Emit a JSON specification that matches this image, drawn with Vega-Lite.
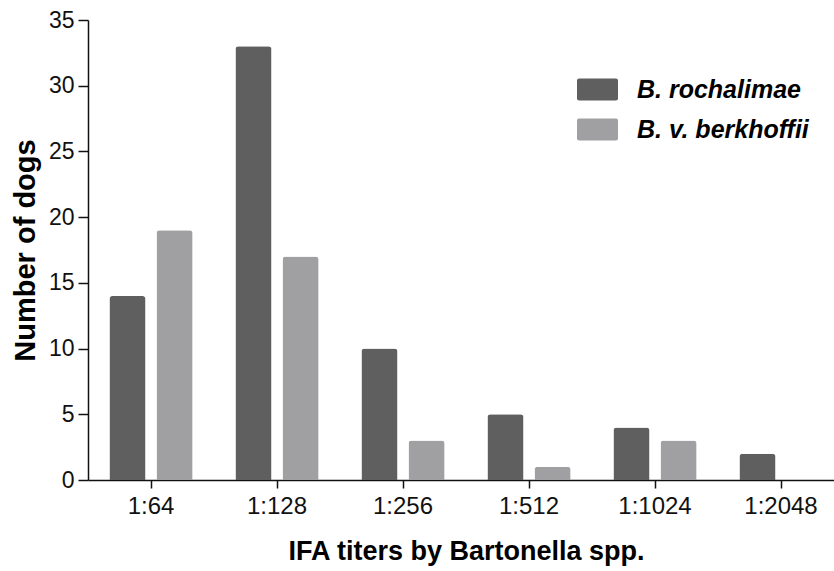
{
  "$schema": "https://vega.github.io/schema/vega-lite/v6.json",
  "width": 756,
  "height": 460,
  "autosize": {"type": "none"},
  "padding": {"left": 88, "top": 20, "right": 0, "bottom": 91},
  "background": "white",
  "data": {
    "values": [
      {"titer": "1:64", "species": "B. rochalimae", "dogs": 14},
      {"titer": "1:64", "species": "B. v. berkhoffii", "dogs": 19},
      {"titer": "1:128", "species": "B. rochalimae", "dogs": 33},
      {"titer": "1:128", "species": "B. v. berkhoffii", "dogs": 17},
      {"titer": "1:256", "species": "B. rochalimae", "dogs": 10},
      {"titer": "1:256", "species": "B. v. berkhoffii", "dogs": 3},
      {"titer": "1:512", "species": "B. rochalimae", "dogs": 5},
      {"titer": "1:512", "species": "B. v. berkhoffii", "dogs": 1},
      {"titer": "1:1024", "species": "B. rochalimae", "dogs": 4},
      {"titer": "1:1024", "species": "B. v. berkhoffii", "dogs": 3},
      {"titer": "1:2048", "species": "B. rochalimae", "dogs": 2},
      {"titer": "1:2048", "species": "B. v. berkhoffii", "dogs": 0}
    ]
  },
  "mark": {"type": "bar", "cornerRadiusTopLeft": 3, "cornerRadiusTopRight": 3},
  "encoding": {
    "x": {
      "field": "titer",
      "type": "nominal",
      "sort": ["1:64", "1:128", "1:256", "1:512", "1:1024", "1:2048"],
      "scale": {"paddingInner": 0.34, "paddingOuter": 0.17},
      "axis": {
        "title": "IFA titers by Bartonella spp.",
        "labelAngle": 0,
        "labelFont": "Liberation Sans",
        "labelFontSize": 24,
        "labelColor": "#111",
        "labelPadding": 6,
        "tickSize": 8,
        "tickColor": "#111",
        "tickWidth": 1.5,
        "domainColor": "#111",
        "domainWidth": 1.5,
        "titleFont": "Liberation Sans",
        "titleFontSize": 27,
        "titleFontWeight": "bold",
        "titleColor": "#000",
        "titlePadding": 20,
        "titleAnchor": "middle"
      }
    },
    "xOffset": {
      "field": "species",
      "type": "nominal",
      "scale": {"paddingInner": 0.234, "paddingOuter": 0}
    },
    "y": {
      "field": "dogs",
      "type": "quantitative",
      "scale": {"domain": [0, 35], "nice": false},
      "axis": {
        "title": "Number of dogs",
        "values": [0, 5, 10, 15, 20, 25, 30, 35],
        "grid": false,
        "labelFont": "Liberation Sans",
        "labelFontSize": 23,
        "labelColor": "#111",
        "labelPadding": 4,
        "tickSize": 10,
        "tickColor": "#111",
        "tickWidth": 1.5,
        "domainColor": "#111",
        "domainWidth": 1.5,
        "titleFont": "Liberation Sans",
        "titleFontSize": 29,
        "titleFontWeight": "bold",
        "titleColor": "#000",
        "titlePadding": 8
      }
    },
    "color": {
      "field": "species",
      "type": "nominal",
      "scale": {"domain": ["B. rochalimae", "B. v. berkhoffii"], "range": ["#5f5f5f", "#a0a0a3"]},
      "legend": {
        "title": null,
        "orient": "none",
        "legendX": 489,
        "legendY": 49,
        "symbolType": "M-0.9,-0.54L0.9,-0.54Q1,-0.54 1,-0.44L1,0.44Q1,0.54 0.9,0.54L-0.9,0.54Q-1,0.54 -1,0.44L-1,-0.44Q-1,-0.54 -0.9,-0.54Z",
        "symbolSize": 1681,
        "symbolStrokeWidth": 0,
        "symbolOpacity": 1,
        "labelFont": "Liberation Sans",
        "labelFontSize": 25,
        "labelFontStyle": "italic",
        "labelFontWeight": "bold",
        "labelColor": "#000",
        "labelOffset": 19,
        "rowPadding": 6,
        "labelLimit": 400
      }
    }
  },
  "config": {"view": {"stroke": null}}
}
